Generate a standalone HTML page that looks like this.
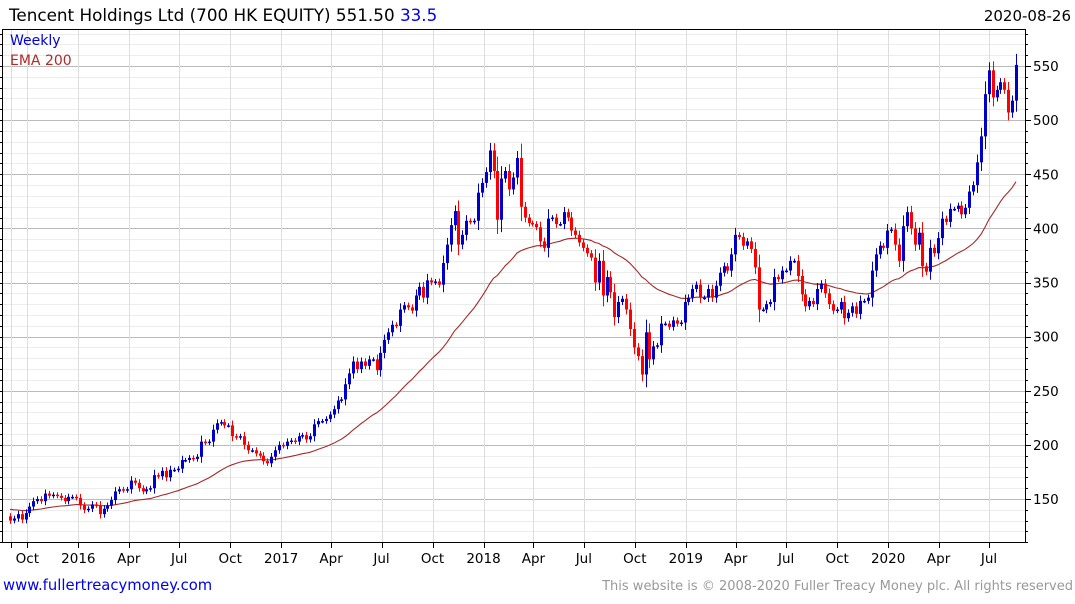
<!DOCTYPE html>
<html><head><meta charset="utf-8"><style>
body{margin:0;background:#fff;width:1075px;height:600px;overflow:hidden;font-family:"DejaVu Sans",sans-serif}
</style></head><body>
<svg id="chart" width="1075" height="600" xmlns="http://www.w3.org/2000/svg" font-family="DejaVu Sans, Liberation Sans, sans-serif">
<text x="9" y="21" font-size="16.8" fill="#000">Tencent Holdings Ltd (700 HK EQUITY) 551.50 <tspan fill="#0000ee">33.5</tspan></text>
<text x="1071" y="21" font-size="15" fill="#000" text-anchor="end">2020-08-26</text>
<g id="grid"></g>
<g id="marks"></g>
<rect x="2.5" y="29.5" width="1023" height="513" fill="none" stroke="#000" stroke-width="1"/>
<text x="10" y="45" font-size="14" fill="#0000dd">Weekly</text>
<text x="10" y="65" font-size="14" fill="#b02a2a">EMA 200</text>
<a><text x="3" y="590" font-size="14.8" fill="#0000ee">www.fullertreacymoney.com</text></a>
<text x="1073" y="590" font-size="13" fill="#999" text-anchor="end">This website is © 2008-2020 Fuller Treacy Money plc. All rights reserved</text>
</svg>
<script>
const closes = [130,132,136,131,137,143,148,150,148,155,153,154,153,151,148,152,152,151,144,140,141,145,144,136,141,144,149,157,159,158,159,167,165,160,157,159,160,172,171,176,170,177,177,178,186,186,188,187,189,203,202,203,214,220,221,218,218,208,207,208,200,195,195,192,190,185,183,
189,195,200,199,203,204,203,208,209,205,208,219,222,222,224,228,233,241,242,256,266,277,270,277,273,279,279,269,285,297,304,311,310,325,329,327,324,338,346,336,352,350,351,348,368,385,403,416,385,394,407,406,407,433,442,452,472,453,408,446,453,436,447,465,420,410,
405,404,401,388,382,409,410,404,404,415,410,398,394,387,382,377,373,350,370,338,355,341,318,332,335,325,307,290,282,265,304,279,291,292,312,312,309,315,312,313,332,336,344,348,336,336,344,336,347,359,365,361,376,394,392,384,388,381,364,325,325,330,332,355,353,361,361,370,370,356,339,328,333,330,344,349,340,330,324,325,332,317,322,328,321,333,333,336,361,376,384,382,398,399,385,370,402,415,400,385,396,365,360,382,377,391,409,406,418,418,421,413,419,434,440,461,485,524,546,521,528,535,528,507,518,551];
const firstOpen = 134;
const emaStart = 141;
const yTicks = [150,200,250,300,350,400,450,500,550];
const xTickLabels = ["Oct","2016","Apr","Jul","Oct","2017","Apr","Jul","Oct","2018","Apr","Jul","Oct","2019","Apr","Jul","Oct","2020","Apr","Jul"];
const xTickDates = ["2015-10-01","2016-01-01","2016-04-01","2016-07-01","2016-10-01","2017-01-01","2017-04-01","2017-07-01","2017-10-01","2018-01-01","2018-04-01","2018-07-01","2018-10-01","2019-01-01","2019-04-01","2019-07-01","2019-10-01","2020-01-01","2020-04-01","2020-07-01"];

const NS="http://www.w3.org/2000/svg";
const y = p => 66 + (550 - p) * 1.0825;
const t0 = Date.UTC(2015,8,1);
const xd = s => 10.7 + (Date.parse(s) - t0) / 86400000 * 0.5543;
const xi = i => 10 + i * (1006 / (closes.length - 1));
const grid=document.getElementById('grid'), marks=document.getElementById('marks'), svg=document.getElementById('chart');
function mk(tag, attrs, parent){const e=document.createElementNS(NS,tag);for(const k in attrs)e.setAttribute(k,attrs[k]);parent.appendChild(e);return e;}

for(let p=110;p<=580;p+=10){
  const yy=Math.round(y(p))+0.5;
  const l=mk('line',{x1:3,x2:1025,y1:yy,y2:yy,stroke:p%50===0?'#bbb':'#ececec','stroke-width':1},grid);
  
  
  const tk=mk('line',{x1:0,x2:3,y1:yy,y2:yy,stroke:'#000'},grid);
  
  
  const tr=mk('line',{x1:1025,x2:p%50===0?1031:1028,y1:yy,y2:yy,stroke:'#000'},grid);
  
  
}
yTicks.forEach(v=>{
  const t=mk('text',{x:1033,y:y(v)+5,'font-size':13.5,fill:'#000'},svg);
  t.textContent=v;
  
  
});
const allX=[10.7].concat(xTickDates.map(xd));
allX.forEach(xx=>{
  const gx=Math.round(xx)+0.5;
  const g=mk('line',{x1:gx,x2:gx,y1:30,y2:542,stroke:'#ddd'},grid);
  
  
  const tk=mk('line',{x1:gx,x2:gx,y1:542,y2:548,stroke:'#000'},grid);
  
  
});
xTickLabels.forEach((lab,i)=>{
  const t=mk('text',{x:xd(xTickDates[i]),y:563,'font-size':13.5,fill:'#000','text-anchor':'middle'},svg);
  t.textContent=lab;
  
  
});

let ema=emaStart, pts=[];
const a=2/41;
closes.forEach((c,i)=>{ema=ema+a*(c-ema);pts.push(xi(i).toFixed(1)+','+y(ema).toFixed(1));});
const pl=mk('polyline',{points:pts.join(' '),fill:'none',stroke:'#a52a2a','stroke-width':1.1},marks);



closes.forEach((c,i)=>{
  const o=i===0?firstOpen:closes[i-1];
  const up=c>=o, col=up?'#0000cc':'#ff0000';
  const hi=Math.max(o,c)+2+0.25*Math.abs(c-o), lo=Math.min(o,c)-2-0.25*Math.abs(c-o);
  const xx=Math.round(xi(i));
  const g=mk('g',{},marks);
  
  
  mk('line',{x1:xx+0.5,x2:xx+0.5,y1:y(hi),y2:y(lo),stroke:col,'stroke-width':1},g);
  const top=y(Math.max(o,c)), h=Math.max(1.5,Math.abs(y(o)-y(c)));
  mk('rect',{x:xx-1,y:top,width:3,height:h,fill:col},g);
});
</script>
</body></html>
